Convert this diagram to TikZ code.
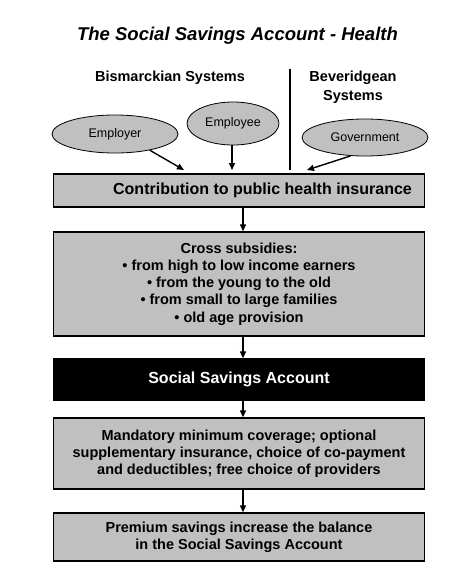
\documentclass[tikz,border=0pt]{standalone}
\usepackage{fontspec}
\setmainfont{Liberation Sans}
\usepackage{xcolor}
\usetikzlibrary{shapes.geometric, arrows.meta, positioning}
\definecolor{boxgray}{RGB}{192,192,192}

\begin{document}
\begin{tikzpicture}[x=1pt, y=-1pt,
  box/.style={rectangle, draw=black, line width=1.4pt, fill=boxgray, minimum width=371pt, align=center, font=\bfseries\fontsize{14.5}{17.2}\selectfont},
  darkbox/.style={box, fill=black, text=white, font=\bfseries\fontsize{16}{19}\selectfont},
  src/.style={ellipse, draw=black, line width=0.8pt, fill=boxgray, inner sep=0pt, font=\fontsize{12.5}{15}\selectfont},
  head/.style={align=center, font=\bfseries\fontsize{14.5}{18.5}\selectfont},
  arr/.style={-{Triangle[length=7pt, width=6pt]}, line width=1.4pt}
]
\useasboundingbox (0,0) rectangle (460,582);

% Title and system headings
\node[font=\bfseries\itshape\fontsize{18.5}{22}\selectfont] (title) at (237.5,36) {The Social Savings Account - Health};
\node[head] (bism) at (170,78) {Bismarckian Systems};
\node[head] (bev) at (353,87) {Beveridgean\\Systems};
\coordinate (divtop) at (290,69);
\coordinate (divbot) at (290,170);
\draw[line width=1.8pt] (divtop) -- (divbot);

% Sources of contributions
\node[src, minimum width=126pt, minimum height=38pt] (employer) at (115,134) {Employer};
\node[src, minimum width=92pt, minimum height=43pt] (employee) at (233,123.5) {Employee};
\node[src, minimum width=126pt, minimum height=37pt] (govt) at (365,137.5) {Government};

% Flow boxes
\node[box, minimum height=33pt] (contrib) at (239,190.5) {};
\node[font=\bfseries\fontsize{16}{19}\selectfont] (contribtext) at (262.5,190.5) {Contribution to public health insurance};
\node[box, minimum height=104pt] (cross) at (239,284) {Cross subsidies:\\ \textbullet{} from high to low income earners\\ \textbullet{} from the young to the old\\ \textbullet{} from small to large families\\ \textbullet{} old age provision};
\node[darkbox, minimum height=41.5pt] (ssa) at (239,379.75) {Social Savings Account};
\node[box, minimum height=71pt] (cover) at (239,453.5) {Mandatory minimum coverage; optional\\ supplementary insurance, choice of co-payment\\ and deductibles; free choice of providers};
\node[box, minimum height=48pt] (premium) at (239,537) {Premium savings increase the balance\\ in the Social Savings Account};

% Arrows into the contribution box
\coordinate (in1) at (184,170);
\coordinate (in2) at (232,170);
\coordinate (in3) at (307,170);
\draw[arr] (employer.-25) -- (in1);
\draw[arr] (employee.south -| in2) -- (in2);
\draw[arr] (govt.-128) -- (in3);

% Arrows down the flow
\draw[arr] ([xshift=4pt]contrib.south) -- ([xshift=4pt]cross.north);
\draw[arr] ([xshift=4pt]cross.south) -- ([xshift=4pt]ssa.north);
\draw[arr] ([xshift=4pt]ssa.south) -- ([xshift=4pt]cover.north);
\draw[arr] ([xshift=4pt]cover.south) -- ([xshift=4pt]premium.north);
\end{tikzpicture}
\end{document}
